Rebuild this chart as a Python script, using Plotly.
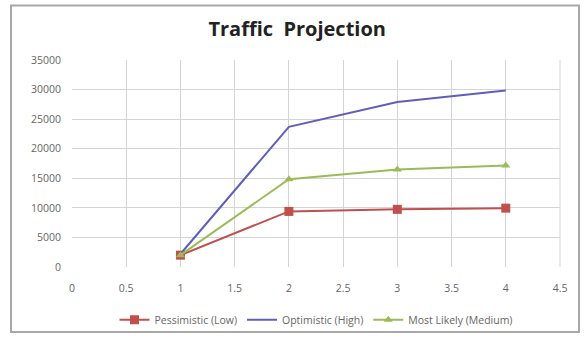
import plotly.graph_objects as go

x_vals = [1, 2, 3, 4]
pessimistic = [2000, 9400, 9750, 9950]
optimistic = [2200, 23700, 27900, 29850]
most_likely = [2000, 14850, 16500, 17150]

x_ticks = [0, 0.5, 1, 1.5, 2, 2.5, 3, 3.5, 4, 4.5]
x_tick_text = ["0", "0.5", "1", "1.5", "2", "2.5", "3", "3.5", "4", "4.5"]
y_ticks = [0, 5000, 10000, 15000, 20000, 25000, 30000, 35000]
y_tick_text = ["0", "5000", "10000", "15000", "20000", "25000", "30000", "35000"]

fig = go.Figure()
fig.add_trace(go.Scatter(x=x_vals, y=pessimistic, mode="lines+markers", name="Pessimistic (Low)",
                         line=dict(color="#C0504D", width=2),
                         marker=dict(symbol="square", size=9, color="#C0504D")))
fig.add_trace(go.Scatter(x=x_vals, y=optimistic, mode="lines", name="Optimistic (High)",
                         line=dict(color="#5F5FB8", width=2)))
fig.add_trace(go.Scatter(x=x_vals, y=most_likely, mode="lines+markers", name="Most Likely (Medium)",
                         line=dict(color="#9BBB59", width=2),
                         marker=dict(symbol="triangle-up", size=8, color="#9BBB59")))

fig.update_layout(
    width=585, height=346, autosize=False,
    margin=dict(l=72, r=25, t=60, b=73),
    paper_bgcolor="white", plot_bgcolor="white",
    title=dict(text="<b>Traffic  Projection</b>", x=0.508, xanchor="center", y=0.915, yanchor="middle",
               font=dict(family="Open Sans", size=20, color="#222222")),
    font=dict(family="Open Sans", size=11, color="#666666"),
    xaxis=dict(range=[0, 4.5], tickvals=x_ticks, ticktext=x_tick_text, showgrid=True,
               gridcolor="#D4D4D4", gridwidth=1, zeroline=False, showline=False, automargin=False,
               tickfont=dict(size=10.5, color="#666666"), ticks="", ticklabelstandoff=13),
    yaxis=dict(range=[0, 35000], tickvals=y_ticks, ticktext=y_tick_text, showgrid=True,
               gridcolor="#D4D4D4", gridwidth=1, automargin=False,
               zeroline=False, showline=False, tickfont=dict(size=10.5, color="#666666"),
               ticks="", ticklabelstandoff=10),
    legend=dict(orientation="h", x=0.5, xanchor="center", y=-0.255, yanchor="middle",
                bgcolor="rgba(0,0,0,0)",
                font=dict(size=10.5, color="#666666"), itemwidth=30, tracegroupgap=0),
    showlegend=True,
)
fig.add_shape(type="line", xref="paper", yref="paper", x0=1, x1=1, y0=0, y1=1,
              line=dict(color="#D4D4D4", width=1))
# outer chart frame (pixel positions converted to paper fractions)
pw, ph = 585 - 72 - 25, 346 - 60 - 73
fig.add_shape(type="rect", xref="paper", yref="paper",
              x0=(11 - 72) / pw, x1=(579 - 72) / pw,
              y0=(273 - 340) / ph, y1=(273 - 4) / ph,
              line=dict(color="#A8A8A8", width=2), layer="below")

fig.write_html("out.html", config={"displayModeBar": False, "responsive": False},
               default_width="585px", default_height="346px",
               post_script="document.body.style.margin='0';document.body.style.padding='0';document.body.style.overflow='hidden';")
